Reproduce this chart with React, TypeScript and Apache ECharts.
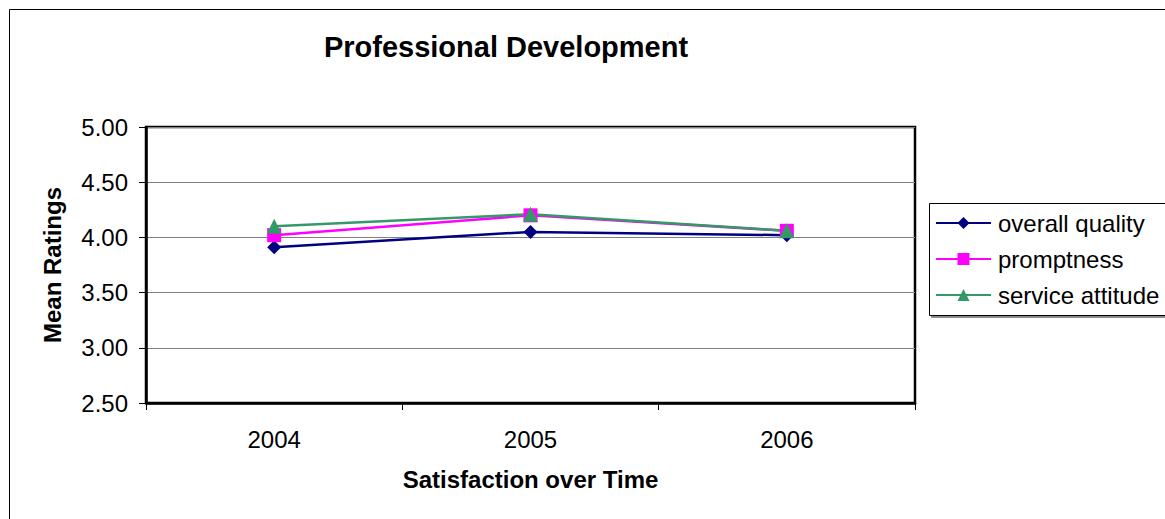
import React, { useEffect, useRef } from "react";
import * as echarts from "echarts";

const categories = ["2004", "2005", "2006"];
const overallQuality = [3.91, 4.05, 4.02];
const promptness = [4.02, 4.2, 4.06];
const serviceAttitude = [4.1, 4.21, 4.06];
const yTicks = { min: 2.5, max: 5, interval: 0.5 };

const FONT = "'Liberation Sans', Arial, sans-serif";

export default function App() {
  const ref = useRef<HTMLDivElement>(null);
  useEffect(() => {
    if (!ref.current) return;
    const chart = echarts.init(ref.current, null, { renderer: "svg" });
    const mk = (name: string, data: number[], color: string, symbol: string, size: number) => ({
      name,
      type: "line",
      data,
      symbol,
      symbolSize: size,
      itemStyle: { color },
      lineStyle: { color, width: 2.5 },
      emphasis: { disabled: true },
    });
    chart.setOption({
      animation: false,
      backgroundColor: "#fff",
      textStyle: { fontFamily: FONT },
      grid: {
        left: 146,
        top: 127,
        width: 769,
        height: 276,
        show: true,
        borderColor: "#000",
        borderWidth: 2.5,
        containLabel: false,
      },
      graphic: [
        {
          type: "rect",
          shape: { x: 9.5, y: 9.5, width: 1300, height: 700 },
          style: { fill: "none", stroke: "#000", lineWidth: 1 },
          z: 0,
        },
        {
          type: "rect",
          shape: { x: 929.5, y: 203.5, width: 400, height: 112 },
          style: {
            fill: "#fff",
            stroke: "#000",
            lineWidth: 1,
            shadowColor: "rgba(0,0,0,0.45)",
            shadowOffsetX: 2,
            shadowOffsetY: 2,
            shadowBlur: 0,
          },
          z: 1,
        },
        {
          type: "text",
          x: 506,
          y: 47,
          style: {
            text: "Professional Development",
            fontFamily: FONT,
            fontSize: 29,
            fontWeight: "bold",
            fill: "#000",
            textAlign: "center",
            textVerticalAlign: "middle",
          },
        },
      ],
      legend: {
        orient: "vertical",
        left: 935,
        top: 211,
        itemWidth: 55,
        itemHeight: 15,
        itemGap: 12,
        padding: 0,
        textStyle: { fontFamily: FONT, fontSize: 24, color: "#000", padding: [0, 0, 0, 2] },
        data: ["overall quality", "promptness", "service attitude"],
        z: 5,
      },
      xAxis: {
        type: "category",
        data: categories,
        boundaryGap: true,
        name: "Satisfaction over Time",
        nameLocation: "middle",
        nameGap: 64,
        nameTextStyle: { fontFamily: FONT, fontSize: 24, fontWeight: "bold", color: "#000" },
        axisLine: { show: true, lineStyle: { color: "#000", width: 2.5 } },
        axisTick: { show: true, length: 7, interval: 0, alignWithLabel: false, lineStyle: { color: "#000", width: 1 } },
        axisLabel: { fontFamily: FONT, fontSize: 24, color: "#000", margin: 24, interval: 0 },
        splitLine: { show: false },
      },
      yAxis: {
        type: "value",
        min: yTicks.min,
        max: yTicks.max,
        interval: yTicks.interval,
        name: "Mean Ratings",
        nameLocation: "middle",
        nameGap: 82,
        nameTextStyle: { fontFamily: FONT, fontSize: 24, fontWeight: "bold", color: "#000" },
        axisLine: { show: true, lineStyle: { color: "#000", width: 2.5 } },
        axisTick: { show: true, length: 7, lineStyle: { color: "#000", width: 1 } },
        axisLabel: {
          fontFamily: FONT,
          fontSize: 24,
          color: "#000",
          margin: 18,
          formatter: (v: number) => v.toFixed(2),
        },
        splitLine: { show: true, lineStyle: { color: "#808080", width: 1 } },
      },
      series: [
        mk("overall quality", overallQuality, "#000080", "diamond", 14),
        mk("promptness", promptness, "#FF00FF", "rect", 14),
        mk("service attitude", serviceAttitude, "#339966", "triangle", 15),
      ],
    });
    return () => chart.dispose();
  }, []);
  return (
    <div
      ref={ref}
      style={{ position: "fixed", left: 0, top: 0, width: 1165, height: 519, background: "#fff" }}
    />
  );
}
